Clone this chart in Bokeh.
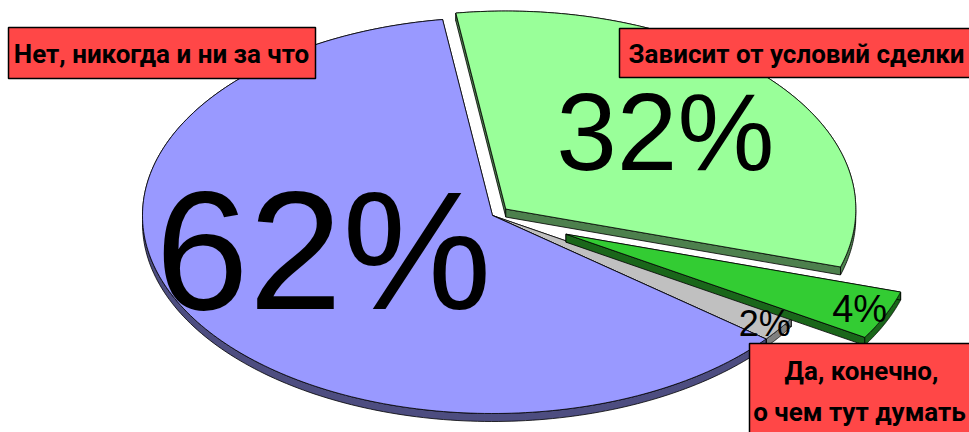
import numpy as np
from bokeh.plotting import figure
from bokeh.models import Range1d, BoxAnnotation, Label, ColumnDataSource
from bokeh.core.properties import value
from bokeh.embed import file_html
from bokeh.resources import INLINE

# ---- data ----
categories = ["Зависит от условий сделки", "Да, конечно, о чем тут думать", "Другое", "Нет, никогда и ни за что"]
shares = [32, 4, 2, 62]
pct_labels = ["32%", "4%", "2%", "62%"]

# ---- layout / style ----
W, H = 969, 432
CX, CY = 492, 215
RX, RY = 350, 198
DEPTH = 8
START = 98.2
explode = [0.05, 0.23, 0.0, 0.0]
top_colors = ["#99FF99", "#33CC33", "#C0C0C0", "#9999FF"]
side_colors = ["#4D804D", "#1A661A", "#808080", "#4D4D80"]
label_r = [0.6, 0.92, 0.95, 0.516]
label_dt = [0.0, 0.0, 0.0, -9.2]
label_size = ["109px", "38px", "36px", "168px"]
draw_order = [0, 2, 3, 1]
BOX_RED = "#FF4747"
LABEL_FONT = "Roboto"

p = figure(width=W, height=H, x_range=Range1d(0, W), y_range=Range1d(H, 0),
           output_backend="svg", toolbar_location=None, min_border=0,
           x_axis_location=None, y_axis_location=None)
p.grid.visible = False
p.outline_line_color = None
p.background_fill_color = "white"


def pt(t, r=1.0, ox=0.0, oy=0.0):
    t = np.radians(t)
    return CX + ox + RX * r * np.cos(t), CY + oy - RY * r * np.sin(t)


total = float(sum(shares))
angles = []
cum = 0.0
for s in shares:
    a1 = START - 360.0 * cum / total
    a2 = a1 - 360.0 * s / total
    angles.append((a1, a2))
    cum += s

lx, ly = [], []
for i in range(len(shares)):
    a1, a2 = angles[i]
    mid = (a1 + a2) / 2
    ox, oy = pt(mid, explode[i])
    ox -= CX
    oy -= CY
    tx, ty = pt(mid + label_dt[i], label_r[i], ox, oy)
    lx.append(tx)
    ly.append(ty)

for i in draw_order:
    a1, a2 = angles[i]
    mid = (a1 + a2) / 2
    ox, oy = pt(mid, explode[i])
    ox -= CX
    oy -= CY
    ax, ay = CX + ox, CY + oy
    ts = np.linspace(a1, a2, 200)
    arx, ary = pt(ts, 1.0, ox, oy)
    # outer wall
    wx = list(arx) + list(arx[::-1])
    wy = list(ary) + list(ary[::-1] + DEPTH)
    p.patch(wx, wy, fill_color=side_colors[i], line_color="black", line_width=0.8)
    # radial walls
    for k in (0, -1):
        ex, ey = arx[k], ary[k]
        p.patch([ax, ex, ex, ax], [ay, ey, ey + DEPTH, ay + DEPTH],
                fill_color=side_colors[i], line_color="black", line_width=0.8)
    # top face
    p.patch([ax] + list(arx), [ay] + list(ary), fill_color=top_colors[i],
            line_color="black", line_width=0.8)

src = ColumnDataSource(dict(x=lx, y=ly, t=pct_labels, s=label_size))
p.text(x="x", y="y", text="t", source=src, text_font_size="s",
       text_align="center", text_baseline="middle", text_color="black",
       text_font=value("Liberation Sans"))

# ---- callout boxes ----
boxes = [(8, 315, 27, 78), (619, 990, 28, 77), (749, 990, 343, 450)]
for (l, r, t, b) in boxes:
    p.add_layout(BoxAnnotation(left=l, right=r, top=t, bottom=b, fill_color=BOX_RED,
                               fill_alpha=1.0, line_color="black", line_width=1.5,
                               line_alpha=1.0))

texts = [("Нет, никогда и ни за что", 161, 53, "center"),
         ("Зависит от условий сделки", 628, 53, "left"),
         ("Да, конечно,", 861, 370, "center"),
         ("о чем тут думать", 859, 411, "center")]
for (tx, x, y, al) in texts:
    p.add_layout(Label(x=x, y=y, text=tx, text_align=al, text_baseline="middle",
                       text_font=LABEL_FONT, text_font_style="bold",
                       text_font_size="26px", text_color="black"))

open("out.html", "w").write(file_html(p, INLINE))
